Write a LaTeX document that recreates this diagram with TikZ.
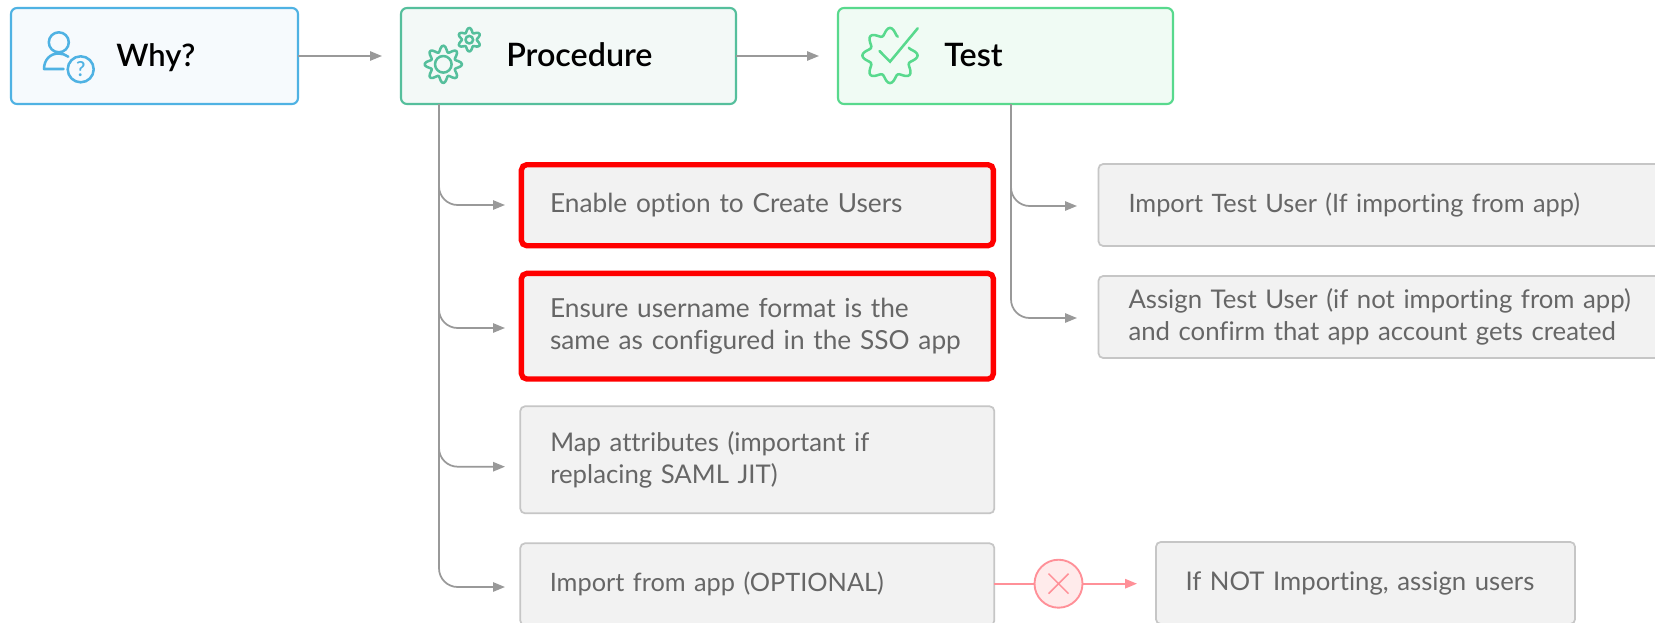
\documentclass[tikz,border=0pt]{standalone}
\usepackage{fontspec}
\setmainfont{Lato}[Ligatures=NoCommon]
\newfontfamily\headfont{Lato Semibold}[Ligatures=NoCommon]
\usetikzlibrary{arrows.meta}
\definecolor{arrowgrey}{HTML}{999999}
\definecolor{boxgrey}{HTML}{C6C6C6}
\definecolor{fillgrey}{HTML}{F2F2F2}
\definecolor{textgrey}{HTML}{666666}
\definecolor{whyblue}{HTML}{4FB2E3}
\definecolor{whyfill}{HTML}{F6FAFD}
\definecolor{procgreen}{HTML}{55BF9C}
\definecolor{procfill}{HTML}{F3F9F7}
\definecolor{testgreen}{HTML}{58D98D}
\definecolor{testfill}{HTML}{F0FBF4}
\definecolor{pinkline}{HTML}{FF9098}
\definecolor{pinkfill}{HTML}{FFEBEB}
\tikzset{
  x=0.75pt,y=-0.75pt,
  headbox/.style={draw,line width=1.6pt,rounded corners=4.5pt,anchor=north west,outer sep=0pt,minimum width=#1*0.75pt,minimum height=72pt,inner sep=0pt},
  whybox/.style={headbox=287,draw=whyblue,fill=whyfill},
  procbox/.style={headbox=335,draw=procgreen,fill=procfill},
  testbox/.style={headbox=335,draw=testgreen,fill=testfill},
  headtext/.style={anchor=base west,inner sep=0pt,font=\headfont\fontsize{24.2pt}{29pt}\selectfont,text=black},
  stepbox/.style n args={3}{draw=boxgrey,fill=fillgrey,line width=1.3pt,rounded corners=3.5pt,anchor=north west,outer sep=0pt,
    minimum width=#1*0.75pt,minimum height=#2*0.75pt,text width=#1*0.75pt-#3*1.5pt,inner xsep=#3*0.75pt,inner ysep=0pt,align=left,
    text=textgrey,font=\fontsize{19.3pt}{24pt}\selectfont},
  wider/.style={font=\fontsize{19.7pt}{24pt}\selectfont},
  narrower/.style={font=\fontsize{19pt}{24pt}\selectfont},
  redbox/.style={draw=red,line width=4pt,rounded corners=4pt},
  flow/.style={draw=arrowgrey,line width=1.3pt,-{Triangle[length=9pt,width=7pt]}},
  elbow/.style={flow,rounded corners=14pt},
  pinkflow/.style={draw=pinkline,line width=1.4pt},
  icon/.style={line width=1.9pt,fill=none,line cap=round,line join=round}
}
\begin{document}
\begin{tikzpicture}
\useasboundingbox (0,0) rectangle (1655,622);
\clip (0,0) rectangle (1655,622);
\fill[white] (0,0) rectangle (1655,622);
\node[whybox] (why) at (11,8) {};
\node[procbox] (proc) at (401,8) {};
\node[testbox] (test) at (838,8) {};
\node[headtext,font=\headfont\fontsize{23.2pt}{29pt}\selectfont] (whyt) at (116,66) {Why?};
\node[headtext] (proct) at (506,66) {Procedure};
\node[headtext] (testt) at (944,66) {Test};

% icons
\draw[icon,whyblue] (58.8,42.3) circle[radius=10];
\draw[icon,whyblue] (63.5,69) -- (44,69) .. controls (44,60) and (50,53.5) .. (58.5,53.5) .. controls (62,53.5) and (65.5,54.7) .. (68.3,56.7);
\draw[icon,whyblue] (80.7,69.3) circle[radius=13];
\node[inner sep=0pt,text=whyblue,font=\headfont\fontsize{15.5pt}{16pt}\selectfont] (qm) at (80.7,69.3) {?};
\draw[icon,procgreen] plot[smooth cycle,samples=65,domain=0:354.375] ({443.3+(15.6+3.1*cos(8*\x))*cos(\x)},{64.3+(15.6+3.1*cos(8*\x))*sin(\x)});
\draw[icon,procgreen] (443.3,64.3) circle[radius=8.3];
\draw[icon,procgreen] plot[smooth cycle,samples=49,domain=0:352.5] ({469.3+(9.6+2.2*cos(6*(\x-30)))*cos(\x)},{39.7+(9.6+2.2*cos(6*(\x-30)))*sin(\x)});
\draw[icon,procgreen] (469.3,39.7) circle[radius=3.8];
\draw[icon,testgreen] plot[smooth,samples=85,domain=-22.5:292.5] ({890+(24+3.6*cos(8*\x))*cos(\x)},{55.5+(24+3.6*cos(8*\x))*sin(\x)});
\draw[icon,testgreen,line join=miter] (879.5,51) -- (890,61.7) -- (917.7,28.3);

\node[stepbox={472}{81}{28.6},redbox,wider] (a1) at (521.4,164.7) {Enable option to Create Users};
\node[stepbox={472}{105.6}{28.6},redbox,wider] (a2) at (521.4,273.4) {Ensure username format is the\\same as configured in the SSO app};
\node[stepbox={474}{107}{30}] (a3) at (520.3,406.3) {Map attributes (important if\\replacing SAML JIT)};
\node[stepbox={474}{82}{29.5},narrower] (a4) at (520.3,543.3) {Import from app (OPTIONAL)};
\node[stepbox={600}{82}{30},narrower] (b1) at (1098.5,164) {Import Test User (If importing from app)};
\node[stepbox={600}{82}{30}] (b2) at (1098.5,276) {Assign Test User (if not importing from app)\\and confirm that app account gets created};
\node[stepbox={419}{82}{29.5}] (c1) at (1156,542) {If NOT Importing, assign users};

\coordinate (pw) at (382,56);
\coordinate (pt) at (819,56);
\draw[flow] (why.east |- pw) -- (pw);
\draw[flow] (proc.east |- pt) -- (pt);
\coordinate (ps) at (439,104);
\coordinate (ts) at (1011,104);
\foreach \y/\n in {205/1,328/2,466.7/3,587/4}{
  \coordinate (t\n) at (505,\y);
  \draw[elbow] (ps) |- (t\n);
}
\foreach \y/\n in {206/1,318/2}{
  \coordinate (u\n) at (1077,\y);
  \draw[elbow] (ts) |- (u\n);
}
\node[circle,draw=pinkline,fill=pinkfill,line width=1.4pt,minimum size=36pt,inner sep=0pt,outer sep=0pt] (x) at (1058.5,583.7) {};
\draw[pinkflow] (a4.east |- x) -- (x.west);
\coordinate (xe) at (1137,583.7);
\draw[pinkflow,-{Triangle[length=9pt,width=7pt]}] (x.east) -- (xe);
\draw[pinkline,line width=1.1pt] (x.center) ++(-10,-10) -- ++(20,20) (x.center) ++(10,-10) -- ++(-20,20);
\end{tikzpicture}
\end{document}
